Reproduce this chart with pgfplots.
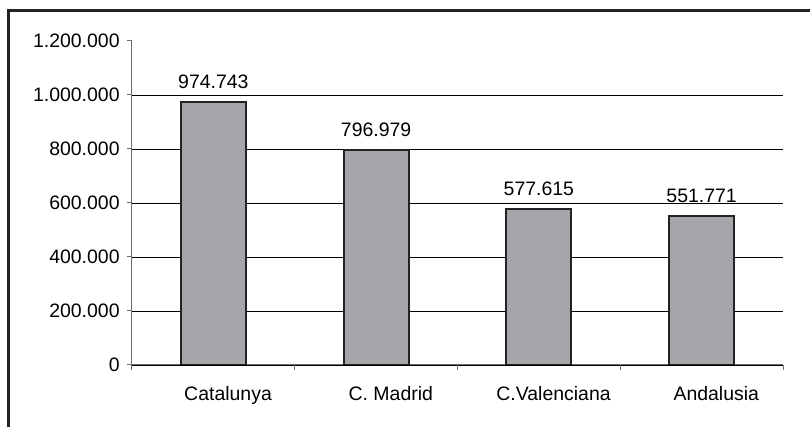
\documentclass[border=0pt]{standalone}
\usepackage{pgfplots}
\pgfplotsset{compat=1.18}
\usepackage{fontspec}
\setmainfont{Liberation Sans}
\definecolor{barfill}{RGB}{165,166,170}
\definecolor{framec}{RGB}{35,35,35}
\definecolor{axisgray}{RGB}{110,110,110}
\begin{document}
\begin{tikzpicture}
\clip (0,0) rectangle (607.5pt,320.25pt);
\fill[white] (0,0) rectangle (607.5pt,320.25pt);
\draw[framec, line width=2.25pt] (6pt,-20pt) -- (6pt,312.4pt) -- (630pt,312.4pt);
\begin{axis}[
    at={(99pt,46.5pt)}, anchor=south west,
    scale only axis, width=488.25pt, height=243pt,
    xmin=-0.5, xmax=3.5, ymin=0, ymax=1200000,
    axis x line=bottom, axis y line=left,
    axis line style={axisgray, line width=0.75pt, -},
    xtick={0,1,2,3},
    xticklabels={Catalunya, C. Madrid, C.Valenciana, Andalusia},
    major x tick style={draw=none},
    extra x ticks={-0.5,0.5,1.5,2.5,3.5},
    extra x tick labels={},
    extra x tick style={major x tick style={draw=axisgray, line width=0.75pt}, tick align=outside, major tick length=3.75pt},
    ytick={0,200000,400000,600000,800000,1000000},
    extra y ticks={1200000},
    extra y tick style={ymajorgrids=false},
    ymajorgrids,
    major grid style={black, line width=0.7pt},
    y tick style={axisgray, line width=0.75pt},
    tick align=outside, major tick length=3.75pt,
    scaled y ticks=false,
    /pgf/number format/.cd, fixed, 1000 sep={.}, assume math mode=true, /pgfplots/.cd,
    tick label style={font=\fontsize{14.6}{17}\selectfont, black},
    xticklabel style={yshift=-9pt, xshift=11pt},
    yticklabel style={xshift=-2pt},
    nodes near coords,
    every node near coord/.append style={font=\fontsize{14.6}{17}\selectfont, black, yshift=6pt},
]
\addplot[ybar, bar width=48.75pt, fill=barfill, draw=framec, line width=1.4pt] coordinates {
    (0, 974743)
    (1, 796979)
    (2, 577615)
    (3, 551771)
};
\end{axis}
\end{tikzpicture}
\end{document}
